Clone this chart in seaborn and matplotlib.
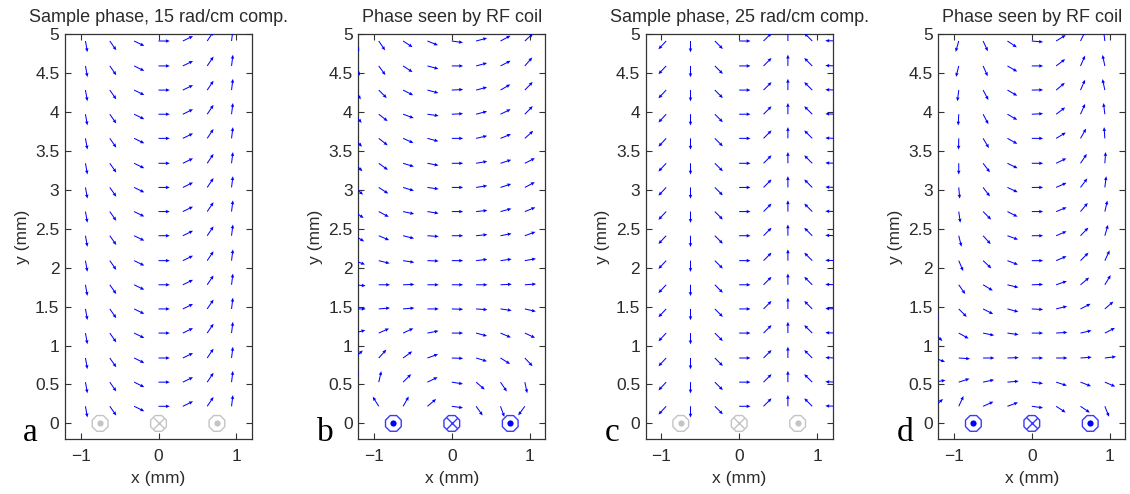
import numpy as np
import pandas as pd
import matplotlib
matplotlib.use("Agg")
import matplotlib.pyplot as plt
from matplotlib.ticker import FormatStrFormatter
import seaborn as sns

# ---------------- data ----------------
# sampling grid of the phase map (mm)
grid_x = [-1.25, -0.9375, -0.625, -0.3125, 0.0, 0.3125, 0.625, 0.9375, 1.25]
grid_y = [0.22, 0.53, 0.84, 1.16, 1.47, 1.78, 2.09, 2.41,
          2.72, 3.03, 3.34, 3.66, 3.97, 4.28, 4.59, 4.91]

# phase angle (degrees) at each grid node; rows bottom -> top, columns left -> right
phase_a = [
    [-105, -80, -55, -26, 0, 26, 56, 83, 105],
    [-105, -80, -55, -26, 0, 26, 56, 83, 105],
    [-105, -80, -55, -26, 0, 26, 56, 83, 105],
    [-105, -80, -55, -26, 0, 26, 56, 83, 105],
    [-105, -80, -55, -26, 0, 26, 56, 83, 105],
    [-105, -80, -55, -26, 0, 26, 56, 83, 105],
    [-105, -80, -55, -26, 0, 26, 56, 83, 105],
    [-105, -80, -55, -26, 0, 26, 56, 83, 105],
    [-105, -80, -55, -26, 0, 26, 56, 83, 105],
    [-105, -80, -55, -26, 0, 26, 56, 83, 105],
    [-105, -80, -55, -26, 0, 26, 56, 83, 105],
    [-105, -80, -55, -26, 0, 26, 56, 83, 105],
    [-105, -80, -55, -26, 0, 26, 56, 83, 105],
    [-105, -80, -55, -26, 0, 26, 56, 83, 105],
    [-105, -80, -55, -26, 0, 26, 56, 83, 105],
    [-105, -80, -55, -26, 0, 26, 56, 83, 105],
]
phase_b = [
    [100, 122, 60, 40, -8, -55, -70, -126, -100],
    [70, 77, 45, 26, -9, -41, -56, -78, -70],
    [42, 48, 36, 20, -2, -17, -32, -47, -42],
    [15, 24, 25, 11, 0, -15, -23, -25, -15],
    [0, 5, 5, 0, -2, -4, -8, -13, 0],
    [-5, 0, 2, 0, 0, 0, 3, 4, 5],
    [-20, -14, -9, -2, 0, 7, 8, 10, 20],
    [-30, -23, -14, -4, 0, 6, 11, 20, 30],
    [-35, -28, -12, -9, 0, 6, 15, 22, 35],
    [-40, -33, -17, -8, 0, 9, 18, 28, 40],
    [-45, -36, -17, -11, 0, 10, 18, 27, 45],
    [-48, -38, -24, -15, 0, 13, 22, 42, 48],
    [-50, -38, -20, -8, 3, 15, 26, 46, 50],
    [-55, -45, -27, -15, 3, 15, 30, 46, 55],
    [-60, -54, -33, -15, 0, 15, 27, 49, 60],
    [-65, -56, -33, -22, -8, 15, 28, 43, 65],
]
phase_c = [
    [-178, -133, -90, -45, 0, 45, 90, 135, 178],
    [-178, -133, -90, -45, 0, 45, 90, 135, 178],
    [-178, -133, -90, -45, 0, 45, 90, 135, 178],
    [-178, -133, -90, -45, 0, 45, 90, 135, 178],
    [-178, -133, -90, -45, 0, 45, 90, 135, 178],
    [-178, -133, -90, -45, 0, 45, 90, 135, 178],
    [-178, -133, -90, -45, 0, 45, 90, 135, 178],
    [-178, -133, -90, -45, 0, 45, 90, 135, 178],
    [-178, -133, -90, -45, 0, 45, 90, 135, 178],
    [-178, -133, -90, -45, 0, 45, 90, 135, 178],
    [-178, -133, -90, -45, 0, 45, 90, 135, 178],
    [-178, -133, -90, -45, 0, 45, 90, 135, 178],
    [-178, -133, -90, -45, 0, 45, 90, 135, 178],
    [-178, -133, -90, -45, 0, 45, 90, 135, 178],
    [-178, -133, -90, -45, 0, 45, 90, 135, 178],
    [-178, -133, -90, -45, 0, 45, 90, 135, 178],
]
phase_d = [
    [40, 65, 24, 20, -8, -33, -34, -68, -27],
    [10, 18, 12, 5, -7, -18, -21, -23, 3],
    [-20, -4, 0, 2, 0, 0, 4, 7, 31],
    [-45, -29, -12, -8, 0, 4, 13, 27, 58],
    [-70, -45, -27, -15, -3, 14, 27, 41, 73],
    [-80, -55, -31, -14, 2, 19, 40, 59, 78],
    [-95, -67, -43, -21, 0, 23, 45, 65, 90],
    [-100, -76, -48, -20, 0, 23, 46, 74, 95],
    [-105, -82, -45, -27, 0, 22, 50, 77, 100],
    [-110, -85, -53, -25, 0, 24, 53, 83, 100],
    [-115, -90, -53, -26, 0, 26, 56, 86, 100],
    [-120, -91, -59, -29, 0, 31, 60, 94, 100],
    [-125, -93, -62, -30, 3, 37, 66, 97, 100],
    [-130, -97, -62, -30, 1, 40, 66, 102, 100],
    [-135, -104, -66, -30, 0, 37, 66, 102, 100],
    [-140, -106, -65, -34, -5, 32, 64, 97, 100],
]

# coil wires at y = 0
wire_x = [-0.75, 0.0, 0.75]
wire_y = [0.0, 0.0, 0.0]
wire_dir = ["out", "in", "out"]

titles = ["Sample phase, 15 rad/cm comp.", "Phase seen by RF coil",
          "Sample phase, 25 rad/cm comp.", "Phase seen by RF coil"]
letters = ["a", "b", "c", "d"]
x_ticks = [-1, 0, 1]
y_ticks = [0, 0.5, 1, 1.5, 2, 2.5, 3, 3.5, 4, 4.5, 5]

# ---------------- style ----------------
sns.set_theme(style="ticks")
plt.rcParams["font.family"] = ["Liberation Sans", "DejaVu Sans"]
TXT = "#2b2b2b"
ARROW_LEN = 0.145

fig = plt.figure(figsize=(11.3, 4.94), dpi=100)
W, H = 1130.0, 494.0
lefts = [65.0, 358.3, 645.7, 938.3]
ax_top, ax_bot = 34.0, 439.0
ax_w = 187.0
letter_x = [23.0, 317.0, 605.0, 897.0]

wire_colors = [("#c4c4c4", "#c4c4c4"), ("#3a3aff", "#0000ff"),
               ("#c4c4c4", "#c4c4c4"), ("#3a3aff", "#0000ff")]

for i, phase in enumerate([phase_a, phase_b, phase_c, phase_d]):
    ax = fig.add_axes([lefts[i] / W, (H - ax_bot) / H, ax_w / W, (ax_bot - ax_top) / H])
    rows = []
    for r, yv in enumerate(grid_y):
        for c, xv in enumerate(grid_x):
            rows.append((xv, yv, phase[r][c]))
    df = pd.DataFrame(rows, columns=["x", "y", "deg"])
    th = np.deg2rad(df["deg"].to_numpy())
    df["u"] = ARROW_LEN * np.cos(th)
    df["v"] = ARROW_LEN * np.sin(th)
    ax.quiver(df["x"], df["y"], df["u"], df["v"], angles="xy", scale_units="xy",
              scale=1, pivot="tail", color="#0000ff", units="xy", width=0.013,
              headwidth=3.5, headlength=4, headaxislength=3.6, zorder=3)

    edge_c, fill_c = wire_colors[i]
    wdf = pd.DataFrame({"x": wire_x, "y": wire_y, "d": wire_dir})
    sns.scatterplot(data=wdf, x="x", y="y", marker="8", s=150, facecolor="none",
                    edgecolor=edge_c, linewidth=1.0, ax=ax, legend=False, zorder=4)
    sns.scatterplot(data=wdf[wdf["d"] == "out"], x="x", y="y", marker="o", s=20,
                    color=fill_c, edgecolor=fill_c, linewidth=0, ax=ax, legend=False, zorder=5)
    sns.scatterplot(data=wdf[wdf["d"] == "in"], x="x", y="y", marker="x", s=65,
                    color=edge_c, linewidth=1.0, ax=ax, legend=False, zorder=5)

    ax.set_xlim(-1.2, 1.2)
    ax.set_ylim(-0.2, 5)
    ax.set_xticks(x_ticks)
    ax.set_yticks(y_ticks)
    ax.yaxis.set_major_formatter(FormatStrFormatter("%g"))
    ax.tick_params(direction="in", top=True, right=True, length=4, width=0.8,
                   labelsize=12.5, labelcolor=TXT, color="#333333")
    ax.tick_params(axis="y", pad=4)
    ax.tick_params(axis="x", pad=7)
    for sp in ax.spines.values():
        sp.set_linewidth(0.9)
        sp.set_color("#333333")
        sp.set_visible(True)
    ax.set_xlabel("x (mm)", fontsize=12.5, color=TXT, labelpad=5)
    ax.set_ylabel("y (mm)", fontsize=12.5, color=TXT, labelpad=4)
    ax.set_title(titles[i], fontsize=13, color=TXT, pad=9)
    ax.set_facecolor("white")
    fig.text(letter_x[i] / W, (H - 441) / H, letters[i], family=["Liberation Serif", "DejaVu Serif"],
             fontsize=24, color="black", va="baseline", ha="left")

fig.savefig("out.png", dpi=100, facecolor="white")
